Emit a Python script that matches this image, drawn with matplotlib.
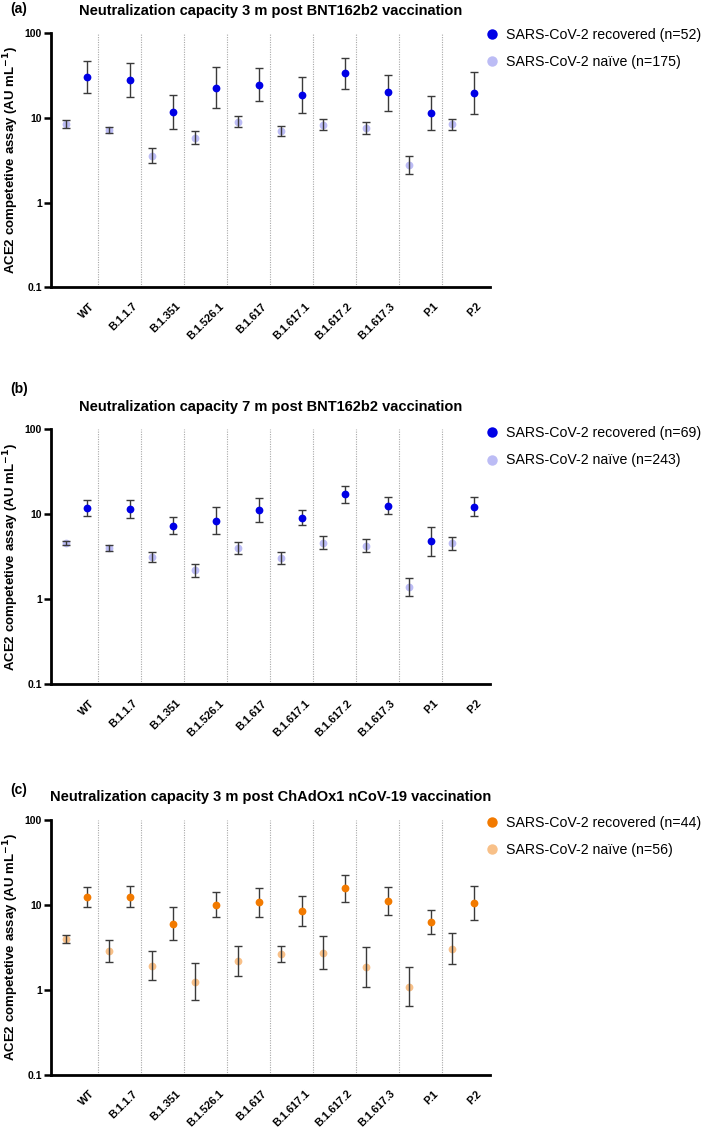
import numpy as np
import matplotlib
matplotlib.use("Agg")
import matplotlib.pyplot as plt
import matplotlib.transforms as mtransforms
from matplotlib.lines import Line2D
from matplotlib.ticker import FixedLocator, NullLocator

plt.rcParams['font.family'] = ['Liberation Sans', 'DejaVu Sans']

variants = ['WT', 'B.1.1.7', 'B.1.351', 'B.1.526.1', 'B.1.617',
            'B.1.617.1', 'B.1.617.2', 'B.1.617.3', 'P.1', 'P.2']

# (a) 3 m post BNT162b2
a_rec = [30.5, 27.9, 11.8, 22.8, 24.5, 18.7, 34.0, 20.1, 11.35, 19.7]
a_rec_lo = [19.7, 17.8, 7.46, 13.1, 15.8, 11.5, 22.2, 12.1, 7.15, 11.0]
a_rec_hi = [46.7, 44.3, 18.5, 39.6, 38.6, 30.5, 51.5, 32.4, 18.2, 34.6]
a_nai = [8.4, 7.27, 3.55, 5.85, 9.04, 7.02, 8.33, 7.6, 2.76, 8.4]
a_nai_lo = [7.6, 6.7, 2.94, 4.93, 7.82, 6.07, 7.15, 6.4, 2.16, 7.15]
a_nai_hi = [9.5, 7.9, 4.39, 7.08, 10.6, 8.1, 9.8, 9.04, 3.52, 9.8]

# (b) 7 m post BNT162b2
b_rec = [11.8, 11.6, 7.28, 8.35, 11.2, 9.12, 17.2, 12.5, 4.81, 12.3]
b_rec_lo = [9.47, 9.12, 5.82, 5.86, 8.05, 7.43, 13.5, 10.0, 3.26, 9.55]
b_rec_hi = [14.9, 14.9, 9.3, 12.2, 15.4, 11.3, 21.5, 15.8, 7.15, 16.1]
b_nai = [4.56, 3.98, 3.15, 2.19, 4.02, 3.04, 4.63, 4.27, 1.4, 4.56]
b_nai_lo = [4.31, 3.67, 2.75, 1.85, 3.41, 2.62, 3.91, 3.6, 1.1, 3.84]
b_nai_hi = [4.89, 4.31, 3.6, 2.62, 4.72, 3.57, 5.51, 5.12, 1.8, 5.36]

# (c) 3 m post ChAdOx1 nCoV-19
c_rec = [12.4, 12.5, 5.98, 10.0, 10.8, 8.43, 15.7, 11.1, 6.3, 10.6]
c_rec_lo = [9.47, 9.47, 3.85, 7.23, 7.28, 5.66, 10.9, 7.62, 4.59, 6.71]
c_rec_hi = [16.4, 16.7, 9.47, 14.0, 16.0, 12.7, 22.7, 16.4, 8.67, 16.6]
c_nai = [3.95, 2.9, 1.91, 1.25, 2.2, 2.63, 2.72, 1.88, 1.09, 3.06]
c_nai_lo = [3.54, 2.15, 1.29, 0.762, 1.46, 2.12, 1.75, 1.09, 0.65, 2.0]
c_nai_hi = [4.41, 3.91, 2.88, 2.06, 3.3, 3.32, 4.35, 3.23, 1.85, 4.69]

panels = [
    ('(a)', 'Neutralization capacity 3 m post BNT162b2 vaccination',
     (a_rec, a_rec_lo, a_rec_hi), (a_nai, a_nai_lo, a_nai_hi),
     52, 175, '#0000e6', '#bcbcf5'),
    ('(b)', 'Neutralization capacity 7 m post BNT162b2 vaccination',
     (b_rec, b_rec_lo, b_rec_hi), (b_nai, b_nai_lo, b_nai_hi),
     69, 243, '#0000e6', '#bcbcf5'),
    ('(c)', 'Neutralization capacity 3 m post ChAdOx1 nCoV-19 vaccination',
     (c_rec, c_rec_lo, c_rec_hi), (c_nai, c_nai_lo, c_nai_hi),
     44, 56, '#f27a00', '#f8c088'),
]

W, H = 709, 1130
fig = plt.figure(figsize=(W / 100, H / 100), dpi=100)

# axes boxes in pixels: (top, bottom)
boxes = [(33.3, 287.3), (429.3, 684.3), (820.0, 1074.7)]
letter_y = [9, 389, 790]
legend_y = [28, 426, 816]
x0_px, x1_px = 51, 490

x = np.arange(len(variants))
for k, (letter, title, rec, nai, n_rec, n_nai, c_rec_col, c_nai_col) in enumerate(panels):
    top, bot = boxes[k]
    ax = fig.add_axes([x0_px / W, 1 - bot / H, (x1_px - x0_px) / W, (bot - top) / H])

    # dotted separators between variants
    for b in x[:-1] + 0.5:
        ax.axvline(b, color='#a8a8a8', lw=0.8, ls=(0, (1, 1.2)), zorder=1)

    m, lo, hi = [np.array(v) for v in nai]
    ax.plot(x - 0.25, m, 'o', ms=5.6, color=c_nai_col, mec='none', zorder=2)
    ax.errorbar(x - 0.25, m, yerr=[m - lo, hi - m], fmt='none', ecolor='#3a3a3a',
                elinewidth=1.0, capsize=3.2, capthick=1.0, zorder=3)
    m, lo, hi = [np.array(v) for v in rec]
    ax.errorbar(x + 0.25, m, yerr=[m - lo, hi - m], fmt='none', ecolor='#3a3a3a',
                elinewidth=1.0, capsize=3.2, capthick=1.0, zorder=3)
    ax.plot(x + 0.25, m, 'o', ms=5.6, color=c_rec_col, mec='none', zorder=4)

    ax.set_yscale('log')
    ax.set_ylim(0.1, 100)
    ax.set_xlim(-0.6, 9.63)
    ax.yaxis.set_major_locator(FixedLocator([0.1, 1, 10, 100]))
    ax.yaxis.set_minor_locator(NullLocator())
    ax.set_yticklabels(['0.1', '1', '10', '100'], fontsize=7.5, fontweight='bold')
    ax.tick_params(axis='y', length=5, width=1.8, pad=1.5)

    ax.set_xticks(x)
    ax.set_xticklabels(variants, rotation=45, ha='right', rotation_mode='anchor',
                       fontsize=7.8, fontweight='bold')
    ax.tick_params(axis='x', length=0, pad=10)
    shift = mtransforms.ScaledTranslation(13 / 100, 0, fig.dpi_scale_trans)
    for lab in ax.get_xticklabels():
        lab.set_transform(lab.get_transform() + shift)

    for s in ['top', 'right']:
        ax.spines[s].set_visible(False)
    for s in ['left', 'bottom']:
        ax.spines[s].set_linewidth(2.0)

    ax.set_ylabel('ACE2 competetive assay (AU mL$^{\\mathbf{-1}}$)', fontsize=9.5,
                  fontweight='bold', labelpad=3)
    ax.set_title(title, fontsize=10.5, fontweight='bold', pad=13.5)
    fig.text(10 / W, 1 - letter_y[k] / H, letter, fontsize=10, fontweight='bold',
             va='center', ha='left')

    handles = [Line2D([], [], ls='none', marker='o', ms=7.5, color=c_rec_col, mec='none'),
               Line2D([], [], ls='none', marker='o', ms=7.5, color=c_nai_col, mec='none')]
    labels = [f'SARS-CoV-2 recovered (n={n_rec})', f'SARS-CoV-2 naïve (n={n_nai})']
    fig.legend(handles, labels, loc='upper left',
               bbox_to_anchor=(485 / W, 1 - legend_y[k] / H), frameon=False,
               fontsize=10.2, handlelength=1.0, handletextpad=0.47,
               labelspacing=0.95, borderpad=0, borderaxespad=0)

fig.savefig('out.png', dpi=100)
